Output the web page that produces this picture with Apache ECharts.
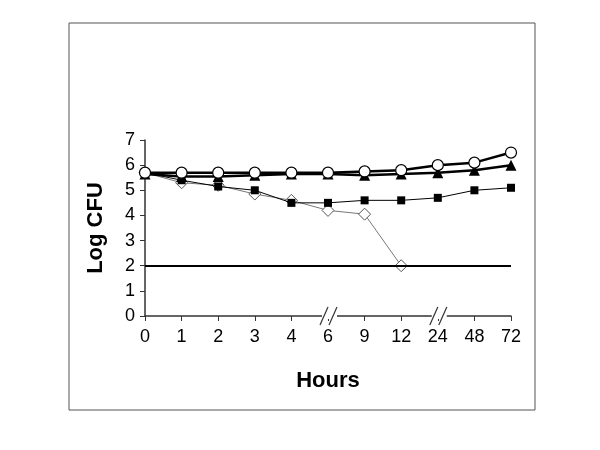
<!DOCTYPE html>
<html>
<head>
<meta charset="utf-8">
<script src="https://cdn.jsdelivr.net/npm/echarts@6/dist/echarts.min.js"></script>
<style>
  html, body { margin: 0; padding: 0; background: #fff; }
  #main { width: 600px; height: 450px; }
</style>
</head>
<body>
<div id="main"></div>
<script>
const hours = ['0', '1', '2', '3', '4', '6', '9', '12', '24', '48', '72'];
const circleVals = [5.7, 5.7, 5.7, 5.7, 5.7, 5.7, 5.75, 5.8, 6.0, 6.1, 6.5];
const triangleVals = [5.65, 5.55, 5.55, 5.6, 5.65, 5.65, 5.6, 5.65, 5.7, 5.8, 6.0];
const squareVals = [5.7, 5.4, 5.15, 5.0, 4.5, 4.5, 4.6, 4.6, 4.7, 5.0, 5.1];
const diamondVals = [5.7, 5.3, 5.2, 4.85, 4.6, 4.2, 4.05, 2.0];
const limitLine = 2;
// axis breaks sit between 4|6 and 12|24 (category index)
const breakAt = [4.5, 7.5];

let myChart = echarts.init(document.getElementById('main'));

const textFont = 'Liberation Sans, Arial, sans-serif';

myChart.setOption({
  animation: false,
  grid: { left: 145, right: 89, top: 140, bottom: 134 },
  xAxis: {
    type: 'category',
    data: hours,
    boundaryGap: false,
    name: 'Hours',
    nameLocation: 'middle',
    nameGap: 54,
    nameTextStyle: { fontFamily: textFont, fontSize: 22, fontWeight: 'bold', color: '#000' },
    axisLine: { lineStyle: { color: '#333', width: 1.5 } },
    axisTick: { alignWithLabel: true, length: 5, lineStyle: { color: '#333' } },
    axisLabel: { fontFamily: textFont, fontSize: 18, color: '#000', margin: 12 },
    splitLine: { show: false }
  },
  yAxis: {
    type: 'value',
    min: 0,
    max: 7,
    interval: 1,
    name: 'Log CFU',
    nameLocation: 'middle',
    nameGap: 38,
    nameTextStyle: { fontFamily: textFont, fontSize: 22, fontWeight: 'bold', color: '#000' },
    axisLine: { show: true, lineStyle: { color: '#333', width: 1.5 } },
    axisTick: { show: true, length: 5, lineStyle: { color: '#333' } },
    axisLabel: { fontFamily: textFont, fontSize: 18, color: '#000', margin: 10 },
    splitLine: { show: false }
  },
  series: [
    {
      type: 'line',
      data: diamondVals,
      symbol: 'diamond',
      symbolSize: 12,
      lineStyle: { color: '#777', width: 1 },
      itemStyle: { color: '#fff', borderColor: '#555', borderWidth: 1 },
      markLine: {
        silent: true,
        symbol: 'none',
        label: { show: false },
        lineStyle: { color: '#000', width: 2, type: 'solid' },
        data: [[{ coord: [0, limitLine] }, { coord: [hours.length - 1, limitLine] }]]
      },
      z: 2
    },
    {
      type: 'line',
      data: squareVals,
      symbol: 'rect',
      symbolSize: 8,
      lineStyle: { color: '#000', width: 1 },
      itemStyle: { color: '#000' },
      z: 3
    },
    {
      type: 'line',
      data: triangleVals,
      symbol: 'triangle',
      symbolSize: 11,
      lineStyle: { color: '#000', width: 2.5 },
      itemStyle: { color: '#000' },
      z: 4
    },
    {
      type: 'line',
      data: circleVals,
      symbol: 'circle',
      symbolSize: 11,
      lineStyle: { color: '#000', width: 2.5 },
      itemStyle: { color: '#fff', borderColor: '#000', borderWidth: 1.2 },
      z: 5
    }
  ]
});

// frame and axis break marks
const y0 = myChart.convertToPixel({ yAxisIndex: 0 }, 0);
const breaks = breakAt.map(function (c) {
  const x = myChart.convertToPixel({ xAxisIndex: 0 }, c) + 2;
  return [
    { type: 'rect', shape: { x: x - 8, y: y0 - 3, width: 15, height: 6 }, style: { fill: '#fff' }, z: 100 },
    { type: 'line', shape: { x1: x - 10, y1: y0 + 9, x2: x - 2, y2: y0 - 9 }, style: { stroke: '#333', lineWidth: 1.2 }, z: 101 },
    { type: 'line', shape: { x1: x - 1, y1: y0 + 9, x2: x + 7, y2: y0 - 9 }, style: { stroke: '#333', lineWidth: 1.2 }, z: 101 }
  ];
});

myChart.setOption({
  graphic: [
    { type: 'rect', shape: { x: 69, y: 23, width: 466, height: 387 }, style: { fill: 'none', stroke: '#555', lineWidth: 1 }, z: 0 }
  ].concat(breaks[0], breaks[1])
});
</script>
</body>
</html>
